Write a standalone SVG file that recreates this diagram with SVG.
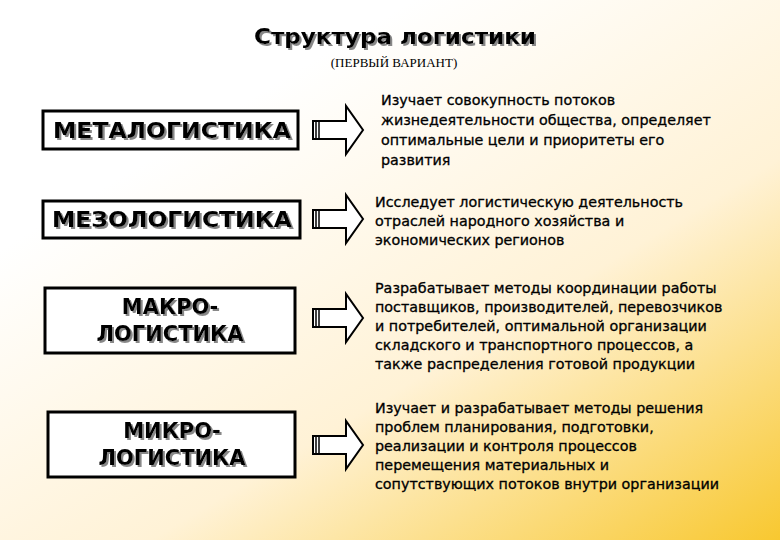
<svg xmlns="http://www.w3.org/2000/svg" width="780" height="540" viewBox="0 0 780 540">
<defs>
<linearGradient id="bg" x1="0.3" y1="0.2" x2="1" y2="1">
<stop offset="0" stop-color="#ffffff"/><stop offset="0.5" stop-color="#fff2d6"/><stop offset="1" stop-color="#f8c830"/>
</linearGradient>
<filter id="sh" x="-5%" y="-20%" width="110%" height="140%"><feDropShadow dx="2" dy="2" stdDeviation="0.4" flood-color="#888"/></filter>
<g id="arr"><path d="M0,-9 H33 V-24 L50,0 L33,24 V9 H0 Z" fill="#fff" stroke="#000" stroke-width="2"/><path d="M3,-9 V9 M6,-9 V9" stroke="#000" stroke-width="1.5"/></g>
</defs>
<style>
.box{fill:#fff;stroke:#000;stroke-width:3}
.bt{font-family:"DejaVu Sans","Liberation Sans",sans-serif;font-weight:bold;font-size:21px;text-anchor:middle;fill:#000;filter:url(#sh)}
.d{font-family:"DejaVu Sans","Liberation Sans",sans-serif;font-size:14.3px;fill:#000;stroke:#000;stroke-width:0.3}
</style>
<rect width="780" height="540" fill="url(#bg)"/>
<g id="title">
<text x="395" y="44" class="bt" font-size="21" textLength="282" lengthAdjust="spacingAndGlyphs">Структура логистики</text>
<text x="394" y="67" font-family="Liberation Serif,serif" font-size="13" text-anchor="middle">(ПЕРВЫЙ ВАРИАНТ)</text>
</g>
<g id="meta"><rect class="box" x="43" y="111" width="255" height="38"/>
<text x="172" y="138" class="bt" textLength="238" lengthAdjust="spacingAndGlyphs">МЕТАЛОГИСТИКА</text></g>
<g id="mezo"><rect class="box" x="43" y="201" width="257" height="37"/>
<text x="172" y="227" class="bt" textLength="240" lengthAdjust="spacingAndGlyphs">МЕЗОЛОГИСТИКА</text></g>
<g id="makro"><rect class="box" x="45" y="288" width="250" height="65"/>
<text class="bt"><tspan x="170" y="314">МАКРО-</tspan><tspan x="170" y="341">ЛОГИСТИКА</tspan></text></g>
<g id="mikro"><rect class="box" x="48" y="412" width="247" height="65"/>
<text class="bt"><tspan x="172" y="438">МИКРО-</tspan><tspan x="172" y="465">ЛОГИСТИКА</tspan></text></g>
<g id="connectors">
<use href="#arr" x="313" y="130"/>
<use href="#arr" x="313" y="219"/>
<use href="#arr" x="313" y="318"/>
<use href="#arr" x="313" y="445"/>
</g>
<g id="d1"><text class="d"><tspan x="381" y="105">Изучает совокупность потоков</tspan><tspan x="381" y="125">жизнедеятельности общества, определяет</tspan><tspan x="381" y="145">оптимальные цели и приоритеты его</tspan><tspan x="381" y="165">развития</tspan></text></g>
<g id="d2"><text class="d"><tspan x="375" y="207">Исследует логистическую деятельность</tspan><tspan x="375" y="226">отраслей народного хозяйства и</tspan><tspan x="375" y="245">экономических регионов</tspan></text></g>
<g id="d3"><text class="d"><tspan x="375" y="293">Разрабатывает методы координации работы</tspan><tspan x="375" y="312">поставщиков, производителей, перевозчиков</tspan><tspan x="375" y="331">и потребителей, оптимальной организации</tspan><tspan x="375" y="350">складского и транспортного процессов, а</tspan><tspan x="375" y="369">также распределения готовой продукции</tspan></text></g>
<g id="d4"><text class="d"><tspan x="375" y="413">Изучает и разрабатывает методы решения</tspan><tspan x="375" y="432">проблем планирования, подготовки,</tspan><tspan x="375" y="451">реализации и контроля процессов</tspan><tspan x="375" y="470">перемещения материальных и</tspan><tspan x="375" y="489">сопутствующих потоков внутри организации</tspan></text></g>
</svg>
